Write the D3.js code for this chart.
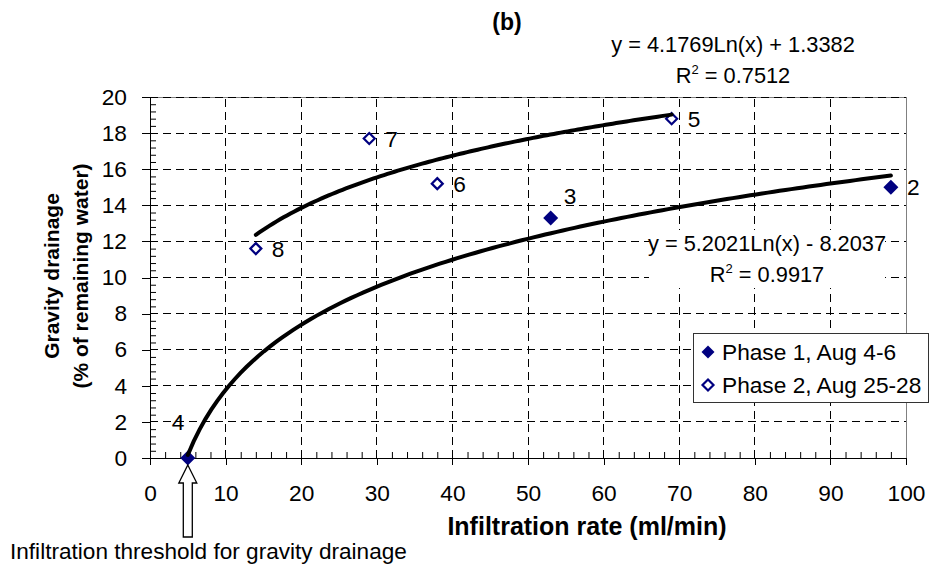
<!DOCTYPE html>
<html>
<head>
<meta charset="utf-8">
<script src="https://cdn.jsdelivr.net/npm/d3@7"></script>
<style>
body { margin: 0; background: #fff; }
text { font-family: "Liberation Sans", Arial, sans-serif; fill: #000; }
</style>
</head>
<body>
<svg id="chart" width="932" height="567"></svg>
<script>
// Phase 1 (filled) and phase 2 (open) measurements, labelled by run number
var phase1X = [5, 53, 98],
phase1Y = [0, 13.3, 15],
phase1Ids = ["4", "3", "2"]

var phase2X = [14, 29, 38, 69],
phase2Y = [11.6, 17.7, 15.2, 18.8],
phase2Ids = ["8", "7", "6", "5"]

var seriesNames = ["Phase 1, Aug 4-6", "Phase 2, Aug 25-28"]
var xTicks = [0, 10, 20, 30, 40, 50, 60, 70, 80, 90, 100]
var yTicks = [0, 2, 4, 6, 8, 10, 12, 14, 16, 18, 20]

// log trendlines y = a*Ln(x) + b as printed on the chart
var fit1 = [5.2021, -8.2037], fit1R2 = "0.9917"
var fit2 = [4.1769, 1.3382], fit2R2 = "0.7512"

var navy = "#000080"
var fontSize = "22.7px"
var svg = d3.select("#chart")

var x = d3.scaleLinear().domain([0, 100]).range([150, 906])
var y = d3.scaleLinear().domain([0, 20]).range([458, 97])

svg.append("rect")
.attr("width", 932).attr("height", 567).attr("fill", "#fff")

svg.append("text")
.attr("x", 507).attr("y", 30)
.attr("text-anchor", "middle")
.style("font-size", "23px").style("font-weight", "bold")
.text("(b)")

// plot frame
svg.append("rect")
.attr("x", x(0)).attr("y", y(20))
.attr("width", x(100) - x(0)).attr("height", y(0) - y(20))
.attr("fill", "none").attr("stroke", "#808080")
.style("shape-rendering", "crispEdges")

var grid = svg.append("g")
.attr("stroke", "#000").attr("stroke-width", 1)
.attr("stroke-dasharray", "8,5")
.style("shape-rendering", "crispEdges")

grid.selectAll(".hgrid")
.data(yTicks.slice(1))
.enter().append("line")
.attr("class", "hgrid")
.attr("x1", x(0)).attr("x2", x(100))
.attr("y1", function(d){ return y(d) }).attr("y2", function(d){ return y(d) })

grid.selectAll(".vgrid")
.data(xTicks.slice(1, -1))
.enter().append("line")
.attr("class", "vgrid")
.attr("x1", function(d){ return x(d) }).attr("x2", function(d){ return x(d) })
.attr("y1", y(0)).attr("y2", y(20))

// minor ticks point inward
var xMinor = d3.range(0, 101, 2).filter(function(d){ return d % 10 })
var yMinor = d3.range(0, 20.01, 0.4).filter(function(d){ return Math.abs(d / 2 - Math.round(d / 2)) > 0.01 })

svg.append("g")
.attr("transform", "translate(0," + y(0) + ")")
.call(d3.axisBottom(x).tickValues(xMinor).tickSize(-6).tickSizeOuter(0).tickFormat(""))
.call(function(g){ g.select(".domain").remove() })

svg.append("g")
.attr("transform", "translate(" + x(0) + ",0)")
.call(d3.axisLeft(y).tickValues(yMinor).tickSize(-6).tickSizeOuter(0).tickFormat(""))
.call(function(g){ g.select(".domain").remove() })

svg.append("g")
.attr("class", "axis")
.attr("transform", "translate(0," + y(0) + ")")
.call(d3.axisBottom(x).tickValues(xTicks).tickSize(7).tickSizeOuter(0).tickPadding(20))

svg.append("g")
.attr("class", "axis")
.attr("transform", "translate(" + x(0) + ",0)")
.call(d3.axisLeft(y).tickValues(yTicks).tickSize(8).tickSizeOuter(0).tickPadding(15))

svg.selectAll(".axis text")
.style("font-size", fontSize)
.style("font-family", "'Liberation Sans', Arial, sans-serif")
.attr("fill", "#000")
svg.selectAll(".axis line, .axis path").attr("stroke", "#000")
.style("shape-rendering", "crispEdges")

svg.append("text")
.attr("x", 587).attr("y", 535)
.attr("text-anchor", "middle")
.style("font-size", "25px").style("font-weight", "bold")
.text("Infiltration rate (ml/min)")

var yTitle = svg.append("text")
.attr("transform", "translate(59,276) rotate(-90)")
.attr("text-anchor", "middle")
.style("font-size", "21px").style("font-weight", "bold")
yTitle.append("tspan").attr("x", 0).attr("y", 0).text("Gravity drainage")
yTitle.append("tspan").attr("x", 0).attr("y", 29).text("(% of remaining water)")

// equation labels
function eqLabel(cx, by, eq, r2, boxed) {
  var g = svg.append("g")
  if (boxed) {
    g.append("rect")
    .attr("x", cx - 118).attr("y", by - 21)
    .attr("width", 236).attr("height", 58)
    .attr("fill", "#fff")
  }
  g.append("text")
  .attr("x", cx).attr("y", by)
  .attr("text-anchor", "middle")
  .style("font-size", "21.8px")
  .text(eq)
  var t = g.append("text")
  .attr("x", cx).attr("y", by + 31)
  .attr("text-anchor", "middle")
  .style("font-size", "21.8px")
  t.append("tspan").text("R")
  t.append("tspan").attr("dy", -9).style("font-size", "13px").text("2")
  t.append("tspan").attr("dy", 9).text(" = " + r2)
}

function eqText(f) {
  return "y = " + f[0].toFixed(4) + "Ln(x) " + (f[1] < 0 ? "- " : "+ ") + Math.abs(f[1]).toFixed(4)
}

eqLabel(733, 52, eqText(fit2), fit2R2, false)
eqLabel(767, 251, eqText(fit1), fit1R2, true)

// markers
function diamond(r) {
  return "M0," + (-r) + "L" + r + ",0L0," + r + "L" + (-r) + ",0Z"
}

var phase1 = phase1X.map(function(d, i){ return {x: d, y: phase1Y[i], id: phase1Ids[i]} })
var phase2 = phase2X.map(function(d, i){ return {x: d, y: phase2Y[i], id: phase2Ids[i]} })

svg.selectAll(".p1")
.data(phase1)
.enter().append("path")
.attr("class", "p1")
.attr("d", diamond(7.5))
.attr("transform", function(d){ return "translate(" + x(d.x) + "," + y(d.y) + ")" })
.attr("fill", navy)

svg.selectAll(".p2")
.data(phase2)
.enter().append("path")
.attr("class", "p2")
.attr("d", diamond(5.5))
.attr("transform", function(d){ return "translate(" + x(d.x) + "," + y(d.y) + ")" })
.attr("fill", "#fff").attr("stroke", navy).attr("stroke-width", 2.2)

// trendlines span each series' x range
var line = d3.line()
.x(function(d){ return x(d[0]) })
.y(function(d){ return y(d[1]) })

function trend(f, xs) {
  var lo = d3.min(xs), hi = d3.max(xs)
  return d3.range(lo, hi + 0.001, (hi - lo) / 120).map(function(v){
    return [v, f[0] * Math.log(v) + f[1]]
  })
}

svg.selectAll(".trend")
.data([trend(fit1, phase1X), trend(fit2, phase2X)])
.enter().append("path")
.attr("class", "trend")
.attr("d", line)
.attr("fill", "none").attr("stroke", "#000")
.attr("stroke-width", 4).attr("stroke-linecap", "round")

// run number labels
var labelOffset = {"4": [-16, -36], "3": [13, -22]}
svg.selectAll(".plabel")
.data(phase1.concat(phase2))
.enter().append("text")
.attr("class", "plabel")
.attr("x", function(d){ return x(d.x) + (labelOffset[d.id] ? labelOffset[d.id][0] : 16) })
.attr("y", function(d){ return y(d.y) + (labelOffset[d.id] ? labelOffset[d.id][1] : 0) })
.attr("dy", "0.36em")
.style("font-size", fontSize)
.text(function(d){ return d.id })

// legend
var legend = svg.append("g").attr("transform", "translate(693,333)")
legend.append("rect")
.attr("width", 235).attr("height", 69)
.attr("fill", "#fff").attr("stroke", "#333")
.style("shape-rendering", "crispEdges")

var item = legend.selectAll(".item")
.data(seriesNames)
.enter().append("g")
.attr("class", "item")
.attr("transform", function(d, i){ return "translate(15," + (19 + i * 33) + ")" })

item.append("path")
.attr("d", function(d, i){ return diamond(i == 0 ? 6.5 : 5.5) })
.attr("fill", function(d, i){ return i == 0 ? navy : "#fff" })
.attr("stroke", function(d, i){ return i == 0 ? "none" : navy })
.attr("stroke-width", 2.2)

item.append("text")
.attr("x", 14).attr("dy", "0.36em")
.style("font-size", fontSize)
.text(function(d){ return d })

// threshold arrow under point 4
var ax = x(phase1X[0]), ay = y(phase1Y[0]) + 7
svg.append("path")
.attr("d", "M" + ax + "," + ay +
  "L" + (ax + 9) + "," + (ay + 18) +
  "L" + (ax + 4.5) + "," + (ay + 18) +
  "L" + (ax + 4.5) + "," + (ay + 72) +
  "L" + (ax - 4.5) + "," + (ay + 72) +
  "L" + (ax - 4.5) + "," + (ay + 18) +
  "L" + (ax - 9) + "," + (ay + 18) + "Z")
.attr("fill", "#fff").attr("stroke", "#000").attr("stroke-width", 1.3)

svg.append("text")
.attr("x", 10).attr("y", 559)
.style("font-size", "22.6px")
.text("Infiltration threshold for gravity drainage")
</script>
</body>
</html>
